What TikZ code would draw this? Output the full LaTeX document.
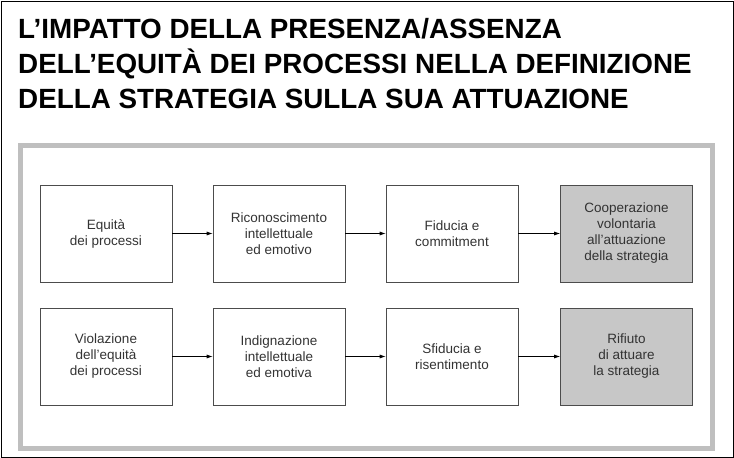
\documentclass[tikz,border=0pt]{standalone}
\usepackage{fontspec}
\setmainfont{Liberation Sans}
\usetikzlibrary{arrows.meta}
\begin{document}
\begin{tikzpicture}[x=1pt,y=-1pt,
  box/.style={draw=black!70,line width=0.6pt,minimum width=132pt,minimum height=97pt,align=center,font=\fontsize{13.5}{16}\selectfont,text=black!80,inner sep=2pt},
  fbox/.style={box,fill=black!22},
  arr/.style={-{Latex[length=6pt,width=4pt]},line width=0.7pt}]
\useasboundingbox (0,0) rectangle (734,458);
\draw[line width=1pt] (1,1) rectangle (733,457);
\node[anchor=north west,align=left,font=\fontsize{27.8}{35}\bfseries\selectfont,inner sep=0pt] (title) at (18,18)
 {L’IMPATTO DELLA PRESENZA/ASSENZA\\DELL’EQUITÀ DEI PROCESSI NELLA DEFINIZIONE\\DELLA STRATEGIA SULLA SUA ATTUAZIONE};
\draw[draw=black!25,line width=5pt] (20,145) rectangle (712,448);
\node[box] (a1) at (106,233.5) {Equità\\dei processi};
\node[box] (a2) at (279,233.5) {Riconoscimento\\intellettuale\\ed emotivo};
\node[box] (a3) at (452,233.5) {Fiducia e\\commitment};
\node[fbox] (a4) at (626.5,233.5) {Cooperazione\\volontaria\\all’attuazione\\della strategia};
\node[box] (b1) at (106,356.5) {Violazione\\dell’equità\\dei processi};
\node[box] (b2) at (279,356.5) {Indignazione\\intellettuale\\ed emotiva};
\node[box] (b3) at (452,356.5) {Sfiducia e\\risentimento};
\node[fbox] (b4) at (626.5,356.5) {Rifiuto\\di attuare\\la strategia};
\foreach \r in {a,b}{
 \draw[arr] (\r1) -- (\r2);
 \draw[arr] (\r2) -- (\r3);
 \draw[arr] (\r3) -- (\r4);}
\end{tikzpicture}
\end{document}
